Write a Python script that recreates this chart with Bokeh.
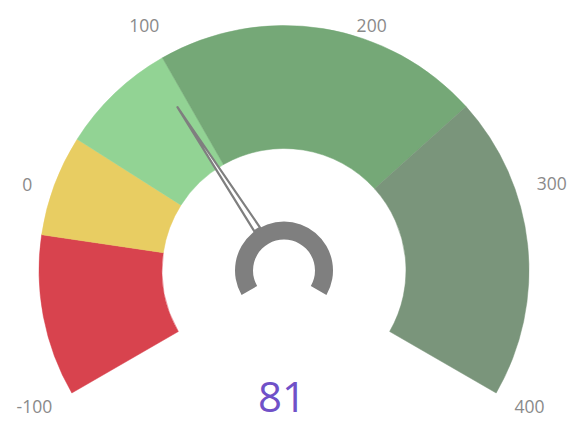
import math
from bokeh.plotting import figure
from bokeh.models import Range1d, ColumnDataSource
from bokeh.core.properties import value as pvalue
from bokeh.embed import file_html
from bokeh.resources import INLINE

# ---- data ----
gauge_min = -100
gauge_max = 400
band_edges = [-100, -20, 30, 88, 250, 400]
band_colors = ["#d8434e", "#e8cd62", "#92d394", "#75a877", "#7a957b"]
tick_values = [-100, 0, 100, 200, 300, 400]
tick_labels = ["-100", "0", "100", "200", "300", "400"]
current_value = 81

# ---- geometry / style ----
W, H = 574, 428
START_DEG, SWEEP_DEG = 210.0, 240.0
CX, CY = 283.5, 158.0          # gauge centre (data units == pixels)
R_OUT, R_IN = 245, 122
HUB_OUT, HUB_IN = 49, 31
NEEDLE_LEN = 195


def ang(v):
    frac = (v - gauge_min) / (gauge_max - gauge_min)
    return math.radians(START_DEG - frac * SWEEP_DEG)


p = figure(width=W, height=H, output_backend="svg", toolbar_location=None,
           x_range=Range1d(0, W), y_range=Range1d(0, H), min_border=0,
           outline_line_color=None, background_fill_color="white",
           border_fill_color="white")
p.axis.visible = False
p.grid.visible = False

# colour bands
bands = ColumnDataSource(dict(
    start=[ang(b) for b in band_edges[1:]],
    end=[ang(a) for a in band_edges[:-1]],
    color=band_colors,
))
p.annular_wedge(x=CX, y=CY, inner_radius=R_IN, outer_radius=R_OUT,
                start_angle="start", end_angle="end", color="color",
                line_color="color", line_width=0.5, source=bands)

# hub ring
p.annular_wedge(x=CX, y=CY, inner_radius=HUB_IN, outer_radius=HUB_OUT,
                start_angle=ang(gauge_max), end_angle=ang(gauge_min),
                color="#7f7f7f", line_color=None)

# needle (thin outlined wedge)
a = ang(current_value)
ux, uy = math.cos(a), math.sin(a)
px, py = -uy, ux
half = 3.4
bx, by = CX + HUB_OUT * ux, CY + HUB_OUT * uy
tx, ty = CX + NEEDLE_LEN * ux, CY + NEEDLE_LEN * uy
p.patch([bx + half * px, tx, bx - half * px], [by + half * py, ty, by - half * py],
        fill_color="white", line_color="#7f7f7f", line_width=2.2,
        line_join="round")

# tick labels (offsets in screen pixels, +y downwards)
R_LBL = 272
nudge_x = [-14, 2, -29, -23, 9, 10]
nudge_y = [0, -2, 3, 3, -3, 0]
lbl = ColumnDataSource(dict(
    x=[CX + R_LBL * math.cos(ang(v)) for v in tick_values],
    y=[CY + R_LBL * math.sin(ang(v)) for v in tick_values],
    t=tick_labels, xo=nudge_x, yo=nudge_y,
))
p.text(x="x", y="y", text="t", x_offset="xo", y_offset="yo", source=lbl,
       text_align="center", text_baseline="middle",
       text_font=pvalue("Open Sans"), text_font_size="17.5px",
       text_color="#8a8a8a")

# value text
p.text(x=[CX - 2], y=[CY - 126], text=[str(current_value)],
       text_align="center", text_baseline="middle",
       text_font=pvalue("Open Sans"), text_font_size="42px",
       text_color="#7051c8")

open("out.html", "w").write(file_html(p, INLINE))
